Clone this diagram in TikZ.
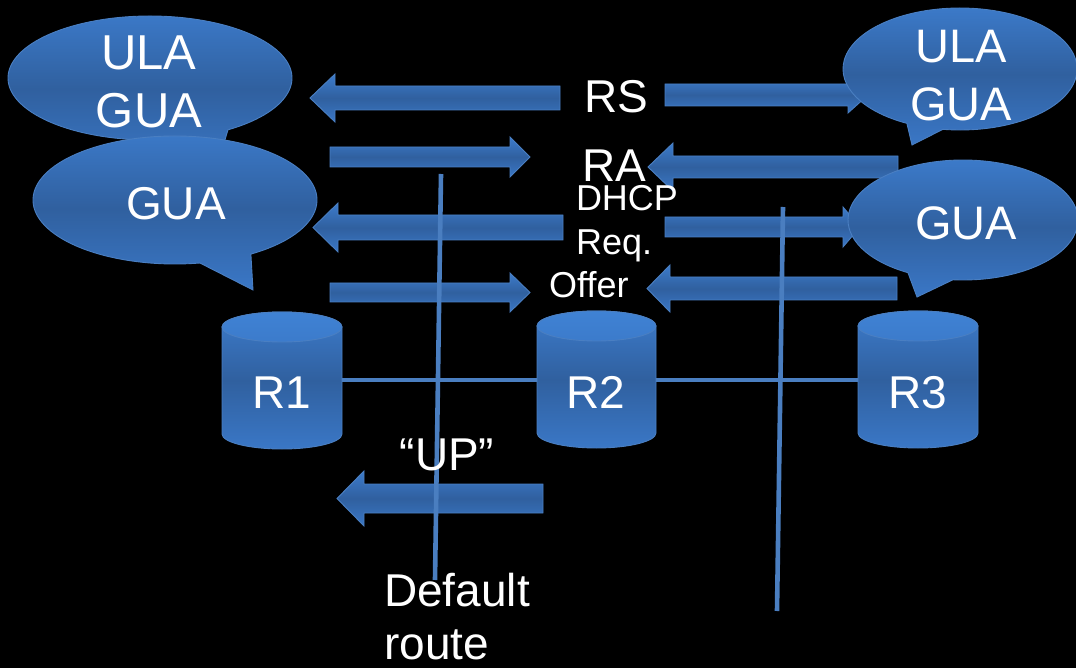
\documentclass[tikz,border=0pt]{standalone}
\usepackage{fontspec}
\setmainfont{Liberation Sans}
\definecolor{blueTop}{HTML}{3C7BCB}
\definecolor{blueMid}{HTML}{30609F}
\definecolor{blueBot}{HTML}{3A77C6}
\definecolor{blueEdge}{HTML}{4A7FC2}
\definecolor{blueCap}{HTML}{3F82D4}
\definecolor{wire}{HTML}{4A7EC0}
\tikzset{
  blob/.style={draw=blueEdge, line width=0.9pt, top color=blueTop, bottom color=blueBot, middle color=blueMid},
  capfill/.style={draw=blueEdge, line width=0.9pt, top color=blueCap, bottom color=blueTop},
  wireline/.style={draw=wire, line width=4.6pt},
  lbl/.style={text=white, inner sep=0pt, font=\fontsize{46}{53}\selectfont},
  small/.style={text=white, inner sep=0pt, font=\fontsize{36}{40}\selectfont},
}
% block arrow pointing left or right: tail x, base x, tip x, centre y, shaft half width, head half width
\newcommand{\blockarrow}[6]{%
  \path[blob] ({#1},{#4+#5}) -- ({#2},{#4+#5}) -- ({#2},{#4+#6}) -- ({#3},{#4})
    -- ({#2},{#4-#6}) -- ({#2},{#4-#5}) -- ({#1},{#4-#5}) -- cycle;}
% cylinder: left x, right x, top y of the body, bottom y of the body, cap radius
\newcommand{\drum}[5]{%
  \path[blob] ({#1},{#3}) -- ({#1},{#4}) arc[start angle=180, end angle=360, x radius={(#2-#1)/2}, y radius=#5]
    -- ({#2},{#3}) arc[start angle=0, end angle=180, x radius={(#2-#1)/2}, y radius=#5] -- cycle;
  \path[capfill] ({(#1+#2)/2},{#3}) ellipse[x radius={(#2-#1)/2}, y radius=#5];}
\begin{document}
\begin{tikzpicture}[x=1pt, y=1pt]
\useasboundingbox (0,0) rectangle (1076,-668);
\fill[black] (0,0) rectangle (1076,-668);
\clip (0,0) rectangle (1076,-668);

% message arrows
\blockarrow{560}{335}{310}{-98}{12}{24}
\blockarrow{665}{848}{868}{-95}{11}{18}
\blockarrow{330}{510}{530}{-157}{10}{20}
\blockarrow{898}{673}{648}{-167}{11}{24}
\blockarrow{563}{338}{313}{-227.5}{12.5}{24.5}
\blockarrow{665}{843}{860}{-227}{10}{20}
\blockarrow{330}{510}{530}{-292.5}{9.5}{19.5}
\blockarrow{897}{670}{647}{-288.5}{11.5}{23.5}
\blockarrow{543}{364}{337}{-498.5}{14.5}{27.5}

% speech bubbles: arc round the ellipse, then out to the tail tip
\path[blob] (150,-78) ++(303.3:142 and 62) arc[start angle=303.3, end angle=638.1, x radius=142, y radius=62] -- (216,-170) -- cycle;
\path[blob] (175,-200) ++(302.3:142 and 64) arc[start angle=302.3, end angle=640.1, x radius=142, y radius=64] -- (253,-290) -- cycle;
\path[blob] (960,-69) ++(261.6:117 and 61) arc[start angle=261.6, end angle=603.0, x radius=117, y radius=61] -- (912,-145) -- cycle;
\path[blob] (963,-220) ++(265:115 and 60) arc[start angle=265, end angle=601.4, x radius=115, y radius=60] -- (917,-297) -- cycle;

\node[lbl, font=\fontsize{49}{58}\selectfont, align=center] (addrL1) at (149,-82) {ULA\\GUA};
\node[lbl] (addrL2) at (176,-220) [anchor=base] {GUA};
\node[lbl, font=\fontsize{47}{58}\selectfont, align=center] (addrR1) at (961,-76) {ULA\\GUA};
\node[lbl, font=\fontsize{47}{58}\selectfont] (addrR2) at (966,-240) [anchor=base] {GUA};

% routers
\drum{222}{342}{-327}{-434}{15}
\drum{537}{656}{-326}{-433}{15}
\drum{858}{978}{-326}{-433}{15}
\coordinate (r1e) at (342,-380);
\coordinate (r2w) at (537,-380);
\coordinate (r2e) at (656,-380);
\coordinate (r3w) at (858,-380);
\node[lbl] (r1) at (282,-408) [anchor=base] {R1};
\node[lbl] (r2) at (596,-408) [anchor=base] {R2};
\node[lbl] (r3) at (918,-408) [anchor=base] {R3};

% links and prefixes
\coordinate (p1top) at (441,-174);
\coordinate (p1bot) at (435,-580);
\coordinate (p2top) at (783,-207);
\coordinate (p2bot) at (777,-611);
\draw[wireline] (r1e) -- (r2w);
\draw[wireline] (r2e) -- (r3w);
\draw[wireline] (p1top) -- (p1bot);
\draw[wireline] (p2top) -- (p2bot);

% message labels
\node[lbl] (rs) at (616,-113) [anchor=base] {RS};
\node[lbl] (ra) at (614,-182) [anchor=base] {RA};
\node[small] (dhcp) at (627,-211) [anchor=base] {DHCP};
\node[small] (req) at (576,-255) [anchor=base west] {Req.};
\node[small] (offer) at (549,-298) [anchor=base west] {Offer};
\node[lbl] (up) at (447,-470) [anchor=base] {“UP”};
\node[lbl, align=left, anchor=west] (dflt) at (384,-617) {Default\\route};
\end{tikzpicture}
\end{document}
